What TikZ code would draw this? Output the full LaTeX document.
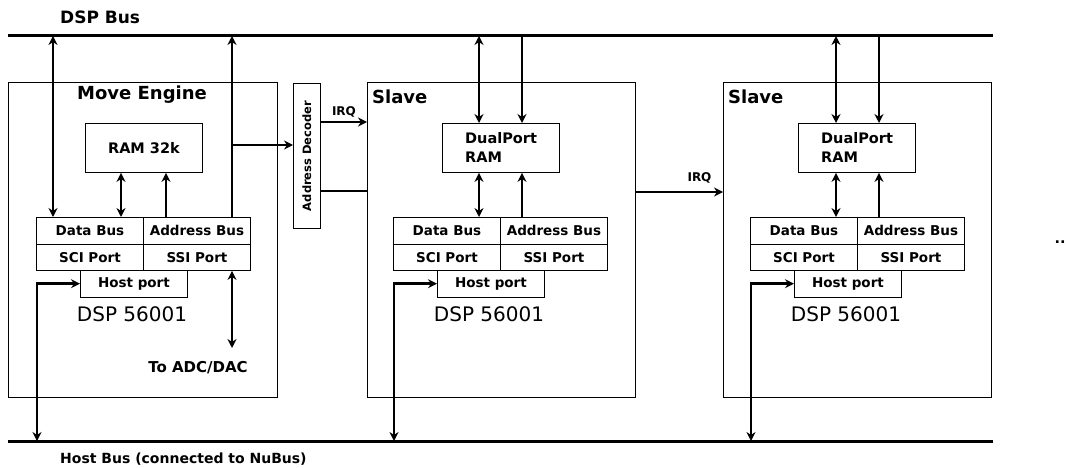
\documentclass[tikz,border=0pt]{standalone}
\usepackage{fontspec}
\setmainfont{DejaVu Sans}
\usetikzlibrary{arrows.meta,calc}

\tikzset{
  box/.style={draw,line width=0.9pt,inner sep=0pt,anchor=north west},
  cell/.style={box,minimum width=107pt,minimum height=26.5pt,
    font=\bfseries\fontsize{13.5}{14}\selectfont},
  bus/.style={line width=3pt},
  wire/.style={line width=2.6pt,
    >={Stealth[length=9pt,width=9pt,inset=3pt]}},
  title/.style={font=\bfseries\fontsize{18}{20}\selectfont,inner sep=0pt,anchor=base west},
  lbl/.style={font=\bfseries\fontsize{14.5}{16}\selectfont,inner sep=0pt},
  irq/.style={font=\bfseries\fontsize{12}{13}\selectfont,inner sep=0pt,anchor=base},
}

\begin{document}
\begin{tikzpicture}[x=1pt,y=-1pt]
\useasboundingbox (0,0) rectangle (1068,468);

% buses
\coordinate (dspL) at (8,36);
\coordinate (dspR) at (993,36);
\coordinate (hostL) at (8,441);
\coordinate (hostR) at (993,441);
\draw[bus] (dspL) -- (dspR);
\draw[bus] (hostL) -- (hostR);
\node[title,font=\bfseries\fontsize{17}{18}\selectfont] (dsplbl) at (60,24) {DSP Bus};
\node[title,font=\bfseries\fontsize{14}{16}\selectfont] (hostlbl) at (60,463) {Host Bus (connected to NuBus)};

% move engine
\node[box,minimum width=269pt,minimum height=315pt] (me) at (8,82) {};
\node[title] (metitle) at (77,100) {Move Engine};
\node[box,minimum width=117pt,minimum height=49pt,
  font=\bfseries\fontsize{14.5}{16}\selectfont] (ram) at (85,123) {RAM 32k};
\node[box,minimum width=27pt,minimum height=145pt] (dec) at (293,83) {};
\node[inner sep=0pt,rotate=90,font=\bfseries\fontsize{11.5}{12}\selectfont]
  (declbl) at (dec.center) {Address Decoder};

% slaves
\foreach \n/\X in {1/367,2/723}
{
  \node[box,minimum width=268pt,minimum height=315pt] (sl\n) at (\X,82) {};
  \node[title] (sltitle\n) at (\X+5,104) {Slave};
  \node[box,minimum width=117pt,minimum height=49pt] (dp\n) at (\X+75,123) {};
  \node[lbl,anchor=base west] (dptop\n) at (\X+98,143) {DualPort};
  \node[lbl,anchor=base west] (dpbot\n) at (\X+98,162) {RAM};
}

% dsp chips
\foreach \n/\L in {0/36,1/393,2/750}
{
  \node[cell] (db\n) at (\L,217) {Data Bus};
  \node[cell] (ab\n) at (\L+107,217) {Address Bus};
  \node[cell] (sci\n) at (\L,243.5) {SCI Port};
  \node[cell] (ssi\n) at (\L+107,243.5) {SSI Port};
  \node[cell] (hp\n) at (\L+44,270) {Host port};
  \node[font=\fontsize{20}{22}\selectfont,inner sep=0pt,anchor=base]
    (dsp\n) at (\L+96,321) {DSP 56001};
  \coordinate (h\n) at (\L+1,441);
  \draw[wire,<->] (h\n) |- (hp\n.west);
}

% move engine links
\coordinate (a0) at ($(db0.north west)+(17,0)$);
\coordinate (b0) at ($(db0.north west)+(85,0)$);
\coordinate (c0) at ($(ab0.north west)+(23,0)$);
\coordinate (d0) at ($(ab0.north west)+(89,0)$);
\draw[wire,<->] (a0) -- (a0 |- dspL);
\draw[wire,<->] (b0) -- (b0 |- ram.south);
\draw[wire,->] (c0) -- (c0 |- ram.south);
\draw[wire,->] (d0) -- (d0 |- dspL);
\coordinate (tap) at ($(d0)+(0,-72)$);
\draw[wire,->] (tap) -- (tap -| dec.west);
\coordinate (adc) at ($(d0)+(0,131)$);
\draw[wire,<->] (adc |- ssi0.south) -- (adc);
\node[lbl,anchor=base,font=\bfseries\fontsize{15}{16}\selectfont]
  (adclbl) at (198,372) {To ADC/DAC};

% slave links
\foreach \n in {1,2}
{
  \coordinate (a\n) at ($(db\n.north west)+(86,0)$);
  \coordinate (c\n) at ($(ab\n.north west)+(22,0)$);
  \draw[wire,<->] (a\n |- dp\n.north) -- (a\n |- dspL);
  \draw[wire,->] (c\n |- dspL) -- (c\n |- dp\n.north);
  \draw[wire,<->] (a\n) -- (a\n |- dp\n.south);
  \draw[wire,->] (c\n) -- (c\n |- dp\n.south);
}

% irq and select lines
\coordinate (irq1) at ($(dec.north east)+(0,39)$);
\coordinate (sel) at ($(dec.north east)+(0,108)$);
\coordinate (irq2) at ($(sl1.north east)+(0,110)$);
\draw[wire,->] (irq1) -- (irq1 -| sl1.west)
  node[irq,midway,yshift=6pt] {IRQ};
\draw[wire] (sel) -- (sel -| sl1.west);
\draw[wire,->] (irq2) -- (irq2 -| sl2.west)
  node[irq,pos=0.73,yshift=11pt] {IRQ};

\node[lbl] (more) at (1060,242) {..};
\end{tikzpicture}
\end{document}
